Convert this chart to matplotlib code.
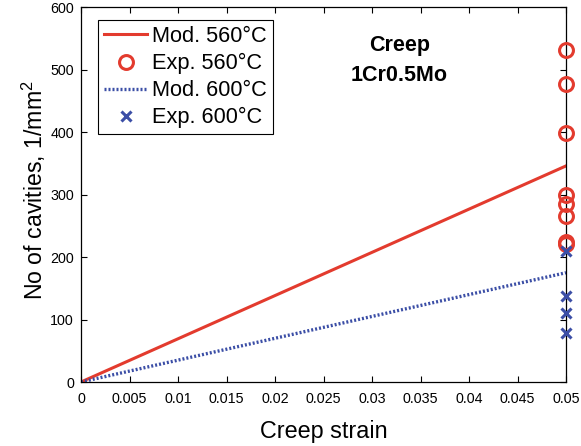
import matplotlib
matplotlib.use("Agg")
import matplotlib.pyplot as plt
import numpy as np

plt.rcParams['font.family'] = ['Liberation Sans', 'DejaVu Sans']
plt.rcParams['mathtext.fontset'] = 'custom'
plt.rcParams['mathtext.rm'] = 'Liberation Sans'

# Model lines (start, end)
mod_strain = [0.0, 0.05]
mod_560 = [0.0, 346]
mod_600 = [0.0, 175]

# Experimental points
exp_strain_560 = [0.05] * 8
exp_560 = [531, 477, 399, 299, 285, 266, 224, 221]
exp_strain_600 = [0.05] * 4
exp_600 = [209, 137, 110, 78]

red = '#e33b2e'
blue = '#3b4ea6'

fig = plt.figure(figsize=(5.81, 4.46), dpi=100)
ax = fig.add_axes([81/581, 1 - 382/446, (566-81)/581, (382-7.3)/446])

ax.plot(mod_strain, mod_560, color=red, lw=2.2, label='Mod. 560°C')
ax.plot(exp_strain_560, exp_560, 'o', ms=10, mfc='none', mec=red, mew=2.2,
        label='Exp. 560°C', clip_on=False, zorder=5)
ax.plot(mod_strain, mod_600, color=blue, lw=2.4, ls=(0, (0.6, 0.6)), label='Mod. 600°C')
ax.plot(exp_strain_600, exp_600, 'x', ms=6.5, mec=blue, mew=2.2,
        label='Exp. 600°C', clip_on=False, zorder=5)

ax.set_xlim(0, 0.05)
ax.set_ylim(0, 600)
ax.set_xticks(np.arange(0, 0.0501, 0.005))
ax.set_xticklabels(['0', '0.005', '0.01', '0.015', '0.02', '0.025', '0.03',
                    '0.035', '0.04', '0.045', '0.05'])
ax.set_yticks(np.arange(0, 601, 100))
ax.tick_params(direction='in', top=True, right=True, labelsize=10.3, length=4, width=0.8)
ax.tick_params(axis='x', pad=7)
ax.tick_params(axis='y', pad=5)
for s in ax.spines.values():
    s.set_linewidth(0.9)

ax.set_xlabel('Creep strain', fontsize=16.8, labelpad=10)
ax.set_ylabel('No of cavities, 1/mm$^2$', fontsize=16.7)
ax.yaxis.set_label_coords(-0.068, 0.512)

ax.text(0.0328, 539, 'Creep', fontsize=15.5, fontweight='bold', ha='center', va='center')
ax.text(0.0328, 490, '1Cr0.5Mo', fontsize=15.5, fontweight='bold', ha='center', va='center')

leg = ax.legend(loc='upper left', bbox_to_anchor=(0.035, 0.966), fontsize=15.7,
                frameon=True, fancybox=False, edgecolor='black', framealpha=1,
                handlelength=2.0, handletextpad=0.22, borderpad=0.27, labelspacing=0.28,
                borderaxespad=0)
leg.get_frame().set_linewidth(0.8)

fig.savefig('out.png', dpi=100)
